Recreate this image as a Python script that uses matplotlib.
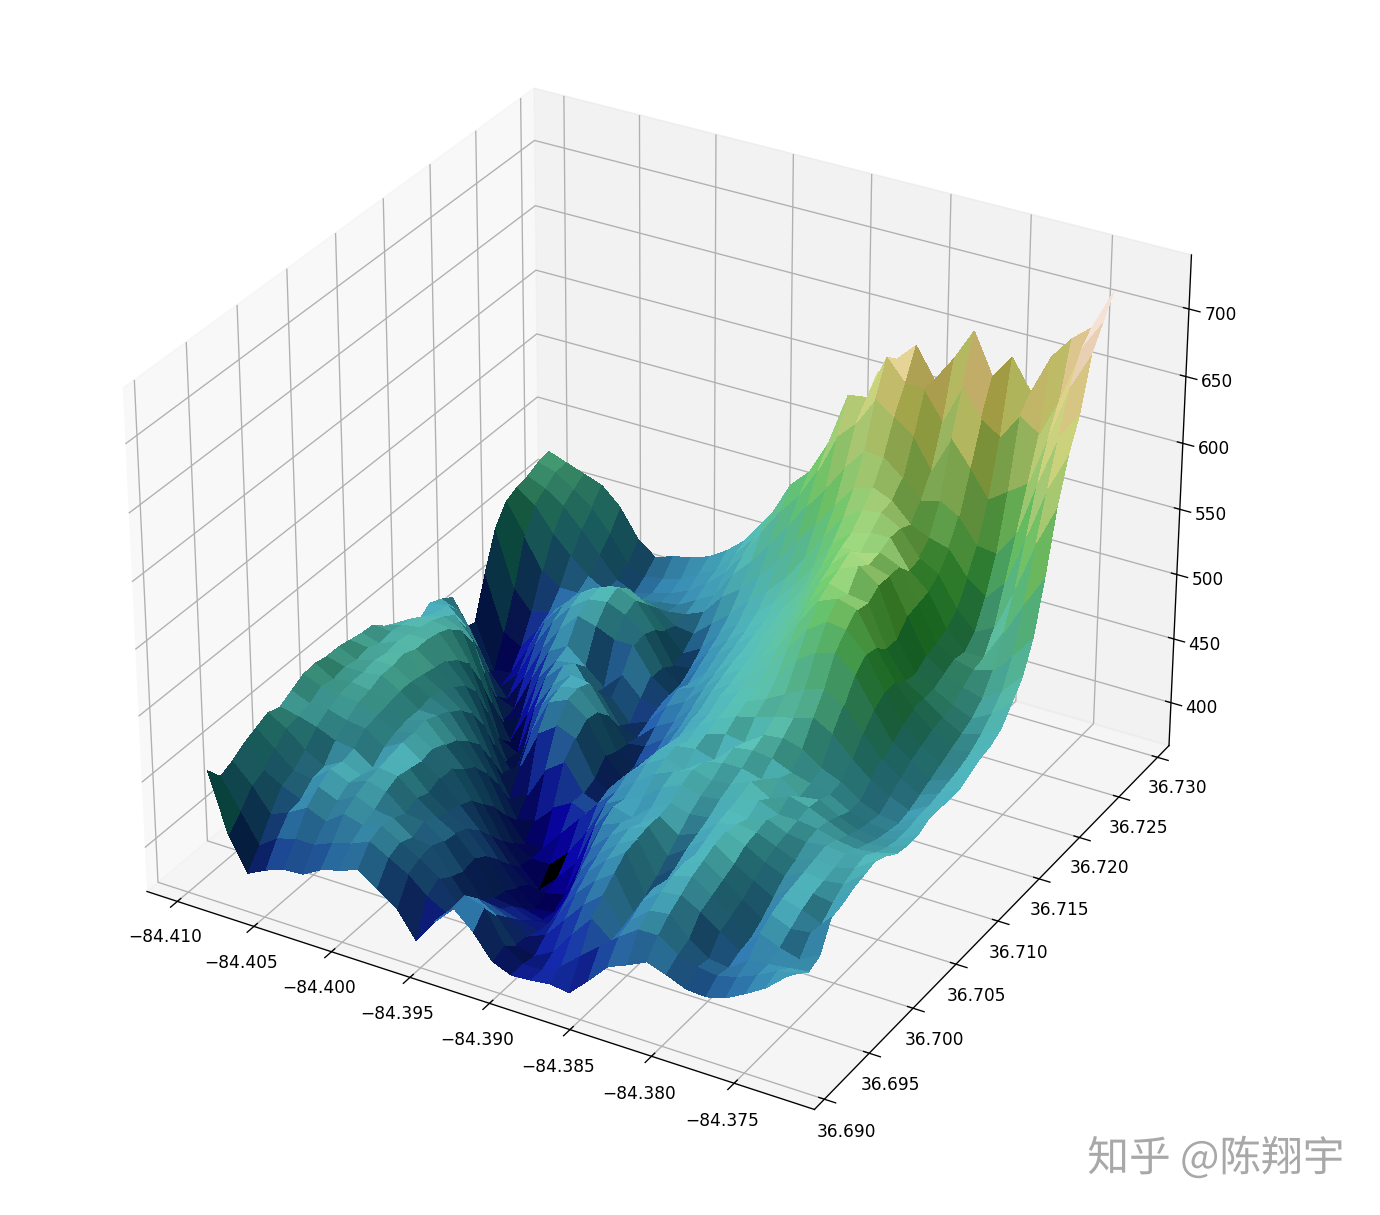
import numpy as np
import matplotlib
matplotlib.use('Agg')
import matplotlib.pyplot as plt
import matplotlib.patheffects as pe
from matplotlib import cm
from matplotlib.colors import LightSource

# elevation, rows go from the south edge to the north edge
rows = [
    [474, 430, 405, 412, 417, 418, 426, 430, 435, 425, 415, 395, 414, 429, 416, 398, 392, 393, 395, 393, 407, 422, 428, 435, 430, 424, 423, 427, 435, 444, 457],
    [462, 440, 418, 428, 432, 432, 438, 442, 448, 440, 432, 420, 412, 430, 426, 402, 392, 392, 400, 412, 424, 436, 446, 446, 436, 432, 430, 434, 440, 448, 451],
    [466, 452, 434, 440, 448, 442, 452, 448, 452, 444, 436, 426, 410, 420, 412, 394, 390, 398, 416, 432, 420, 440, 452, 454, 440, 430, 428, 438, 440, 442, 444],
    [472, 456, 448, 442, 456, 450, 458, 452, 450, 440, 438, 420, 402, 408, 402, 392, 398, 414, 430, 442, 422, 446, 458, 460, 452, 442, 432, 450, 444, 440, 448],
    [476, 464, 452, 450, 462, 456, 462, 458, 446, 444, 434, 416, 398, 396, 392, 388, 404, 426, 440, 450, 424, 448, 462, 466, 456, 446, 434, 456, 450, 452, 468],
    [480, 472, 460, 452, 460, 454, 464, 462, 450, 440, 432, 418, 392, 390, 384, 386, 412, 434, 448, 458, 430, 444, 464, 470, 460, 450, 440, 460, 456, 450, 470],
    [477, 474, 470, 464, 462, 452, 466, 460, 446, 436, 428, 412, 390, 380, 376, 390, 422, 440, 452, 460, 436, 448, 462, 474, 464, 456, 448, 462, 460, 458, 474],
    [482, 476, 476, 472, 470, 460, 468, 458, 450, 434, 420, 402, 384, 372, 374, 398, 432, 446, 456, 462, 444, 454, 466, 476, 470, 462, 456, 464, 462, 464, 476],
    [487, 482, 480, 478, 472, 464, 468, 460, 450, 430, 408, 390, 378, 376, 380, 412, 442, 448, 452, 462, 452, 458, 470, 474, 472, 466, 460, 466, 464, 468, 478],
    [488, 480, 482, 480, 474, 466, 470, 456, 442, 420, 396, 380, 366, 380, 396, 428, 448, 444, 456, 464, 460, 462, 472, 470, 474, 468, 466, 468, 466, 470, 474],
    [486, 482, 482, 484, 476, 466, 466, 452, 436, 410, 386, 378, 378, 392, 412, 438, 446, 452, 464, 470, 466, 468, 474, 476, 470, 470, 468, 464, 462, 464, 468],
    [486, 480, 484, 484, 476, 468, 462, 444, 424, 396, 378, 378, 394, 410, 426, 440, 452, 462, 468, 474, 470, 472, 478, 470, 476, 472, 466, 460, 458, 460, 466],
    [484, 482, 482, 486, 474, 466, 456, 434, 408, 384, 388, 402, 410, 404, 430, 446, 458, 466, 462, 472, 476, 476, 472, 478, 468, 470, 462, 456, 454, 458, 466],
    [482, 478, 484, 482, 472, 462, 446, 416, 388, 396, 420, 430, 410, 404, 424, 444, 460, 468, 470, 466, 480, 482, 480, 474, 470, 466, 458, 454, 452, 458, 470],
    [481, 480, 482, 482, 470, 456, 430, 396, 406, 436, 446, 440, 414, 404, 420, 440, 458, 464, 474, 478, 476, 486, 488, 484, 474, 468, 458, 452, 450, 460, 470],
    [473, 478, 480, 480, 464, 444, 406, 386, 424, 452, 458, 448, 424, 410, 418, 438, 456, 468, 478, 484, 488, 492, 496, 500, 492, 478, 466, 458, 452, 460, 470],
    [468, 476, 478, 476, 454, 420, 386, 400, 438, 456, 460, 446, 420, 412, 424, 442, 460, 470, 480, 488, 494, 502, 510, 514, 506, 490, 474, 464, 456, 462, 470],
    [462, 470, 474, 468, 434, 392, 384, 424, 446, 458, 456, 436, 418, 420, 430, 446, 462, 476, 484, 492, 504, 520, 530, 534, 522, 500, 480, 470, 460, 464, 474],
    [456, 466, 468, 452, 408, 382, 408, 440, 454, 444, 440, 420, 415, 428, 436, 452, 468, 478, 488, 500, 518, 536, 546, 544, 530, 506, 486, 474, 464, 466, 478],
    [462, 464, 452, 420, 386, 394, 428, 446, 448, 428, 430, 414, 420, 436, 444, 458, 472, 482, 494, 508, 530, 550, 556, 552, 528, 506, 490, 478, 468, 470, 480],
    [458, 452, 430, 394, 388, 416, 442, 450, 438, 426, 440, 426, 424, 442, 448, 462, 476, 486, 498, 516, 538, 556, 552, 550, 520, 500, 490, 480, 472, 476, 485],
    [452, 430, 402, 384, 406, 432, 452, 466, 462, 456, 456, 436, 426, 438, 452, 466, 478, 490, 504, 524, 546, 560, 566, 556, 520, 498, 490, 482, 476, 484, 497],
    [420, 396, 382, 396, 424, 446, 462, 472, 474, 468, 458, 436, 426, 444, 458, 470, 482, 494, 510, 534, 552, 566, 560, 556, 530, 504, 494, 488, 484, 494, 509],
    [418, 384, 386, 410, 436, 452, 466, 474, 478, 472, 454, 430, 432, 450, 462, 474, 486, 500, 518, 540, 558, 558, 562, 556, 532, 506, 498, 494, 498, 514, 532],
    [450, 408, 400, 418, 438, 450, 462, 468, 470, 462, 446, 432, 440, 456, 468, 480, 494, 510, 528, 550, 562, 566, 566, 546, 534, 510, 496, 496, 520, 546, 570],
    [478, 436, 420, 424, 436, 444, 452, 456, 456, 452, 442, 440, 452, 464, 478, 490, 504, 524, 544, 562, 572, 574, 566, 548, 540, 518, 504, 512, 546, 584, 615],
    [492, 470, 446, 436, 436, 438, 442, 444, 444, 442, 444, 450, 466, 476, 490, 506, 526, 542, 560, 578, 582, 576, 562, 556, 552, 534, 524, 540, 578, 618, 647],
    [496, 486, 468, 454, 442, 434, 434, 436, 438, 440, 448, 456, 476, 490, 508, 526, 546, 564, 584, 600, 598, 586, 574, 578, 570, 552, 550, 570, 612, 650, 670],
    [498, 492, 482, 468, 452, 436, 430, 434, 438, 444, 454, 466, 484, 506, 526, 542, 566, 596, 610, 632, 622, 612, 590, 618, 600, 580, 590, 600, 640, 680, 707],
    [502, 498, 488, 478, 462, 442, 436, 438, 442, 450, 458, 474, 490, 514, 540, 554, 580, 620, 622, 656, 640, 640, 620, 650, 630, 620, 640, 630, 660, 700, 722],
    [504, 499, 494, 489, 476, 455, 444, 449, 452, 457, 466, 478, 497, 515, 532, 559, 570, 589, 634, 648, 662, 640, 660, 684, 654, 672, 650, 680, 697, 709, 738],
]

lon_range = [-84.4077, -84.372]
lat_range = [36.689, 36.7255]
lon_ticks = [-84.410, -84.405, -84.400, -84.395, -84.390, -84.385, -84.380, -84.375]
lat_ticks = [36.690, 36.695, 36.700, 36.705, 36.710, 36.715, 36.720, 36.725, 36.730]

z = np.array(rows, dtype=float)
nrows, ncols = z.shape
x = np.linspace(lon_range[0], lon_range[1], ncols)
y = np.linspace(lat_range[0], lat_range[1], nrows)
x, y = np.meshgrid(x, y)

fig = plt.figure(figsize=(11.5, 10.133), dpi=120)
ax = fig.add_axes([0.0415, 0.0247, 0.861, 0.978], projection='3d')

ls = LightSource(270, 45)
rgb = ls.shade(z, cmap=cm.gist_earth, vert_exag=0.1, blend_mode='soft')
ax.plot_surface(x, y, z, rstride=1, cstride=1, facecolors=rgb,
                linewidth=0, antialiased=False, shade=False)
ax.set_xlim(-84.412, -84.3702)
ax.set_ylim(36.6889, 36.7315)
ax.set_zlim(366, 739.6)
ax.set_xticks(lon_ticks)
ax.set_yticks(lat_ticks)
ax.set_xticklabels([f'\u2212{abs(t):.3f}' for t in lon_ticks])
ax.set_yticklabels([f'{t:.3f}' for t in lat_ticks])
ax.tick_params(labelsize=10.2)

fig.text(0.881, 0.0465, '知乎 @陈翔宇', fontsize=25, color='#a8a8a8', ha='center', va='center',
         family=['Noto Sans CJK SC', 'DejaVu Sans'],
         path_effects=[pe.withStroke(linewidth=1.5, foreground='white')])

fig.savefig('out.png', dpi=120)
